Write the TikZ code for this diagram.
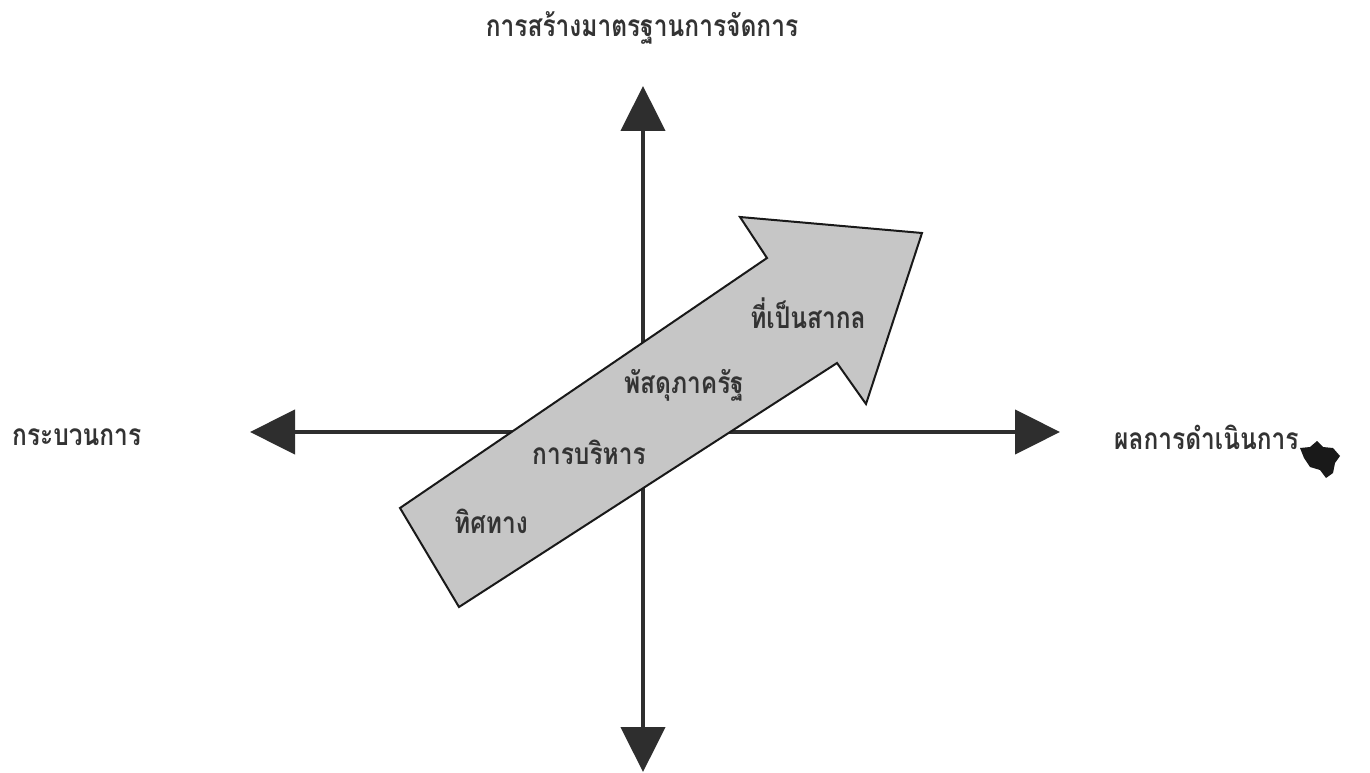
\documentclass[tikz,border=0pt]{standalone}
\usepackage{fontspec}
\usepackage{graphicx}
\newfontfamily\thaifont[Script=Thai]{Loma}
\usetikzlibrary{arrows.meta}
\definecolor{axisgray}{HTML}{2E2E2E}
\definecolor{arrowfill}{HTML}{C6C6C6}
\newcommand{\tall}[1]{\scalebox{1}[1.22]{#1}}
\tikzset{
  axis/.style={draw=axisgray, line width=4.5pt, -{Triangle[length=45pt,width=44pt]}},
  lbl/.style={font=\thaifont\bfseries\fontsize{24.5}{28}\selectfont, text=black!80, inner sep=0pt},
  bigarrow/.style={draw=black!90, line width=2pt, fill=arrowfill, line join=miter},
}
\begin{document}
\begin{tikzpicture}[x=1pt,y=-1pt]
\useasboundingbox (0,0) rectangle (1370,773);
\coordinate (c) at (643,432);
\coordinate (top) at (643,86);
\coordinate (bot) at (643,772);
\coordinate (left) at (250,432);
\coordinate (right) at (1060,432);
\draw[axis] (c) -- (top);
\draw[axis] (c) -- (bot);
\draw[axis] (c) -- (left);
\draw[axis] (c) -- (right);
\draw[bigarrow] (400,508) -- (459,607) -- (837,363) -- (866,404) -- (922,233) -- (740,217) -- (767,258) -- cycle;
\node[lbl] (t1) at (642,28) {\tall{การสร้างมาตรฐานการจัดการ}};
\node[lbl, anchor=west] (t2) at (12,437) {\tall{กระบวนการ}};
\node[lbl, anchor=west] (t3) at (1114,437) {\tall{ผลการดำเนินการ}};
\node[lbl] (a1) at (808,313) {\tall{ที่เป็นสากล}};
\node[lbl] (a2) at (684,385) {\tall{พัสดุภาครัฐ}};
\node[lbl] (a3) at (589,452) {\tall{การบริหาร}};
\node[lbl] (a4) at (491,521) {\tall{ทิศทาง}};
\fill[black!90] (1300,448) -- (1310,447) -- (1317,441) -- (1323,447) -- (1333,448) -- (1340,456) -- (1335,463) -- (1333,473) -- (1326,478) -- (1320,470) -- (1310,467) -- (1304,458) -- cycle;
\end{tikzpicture}
\end{document}
